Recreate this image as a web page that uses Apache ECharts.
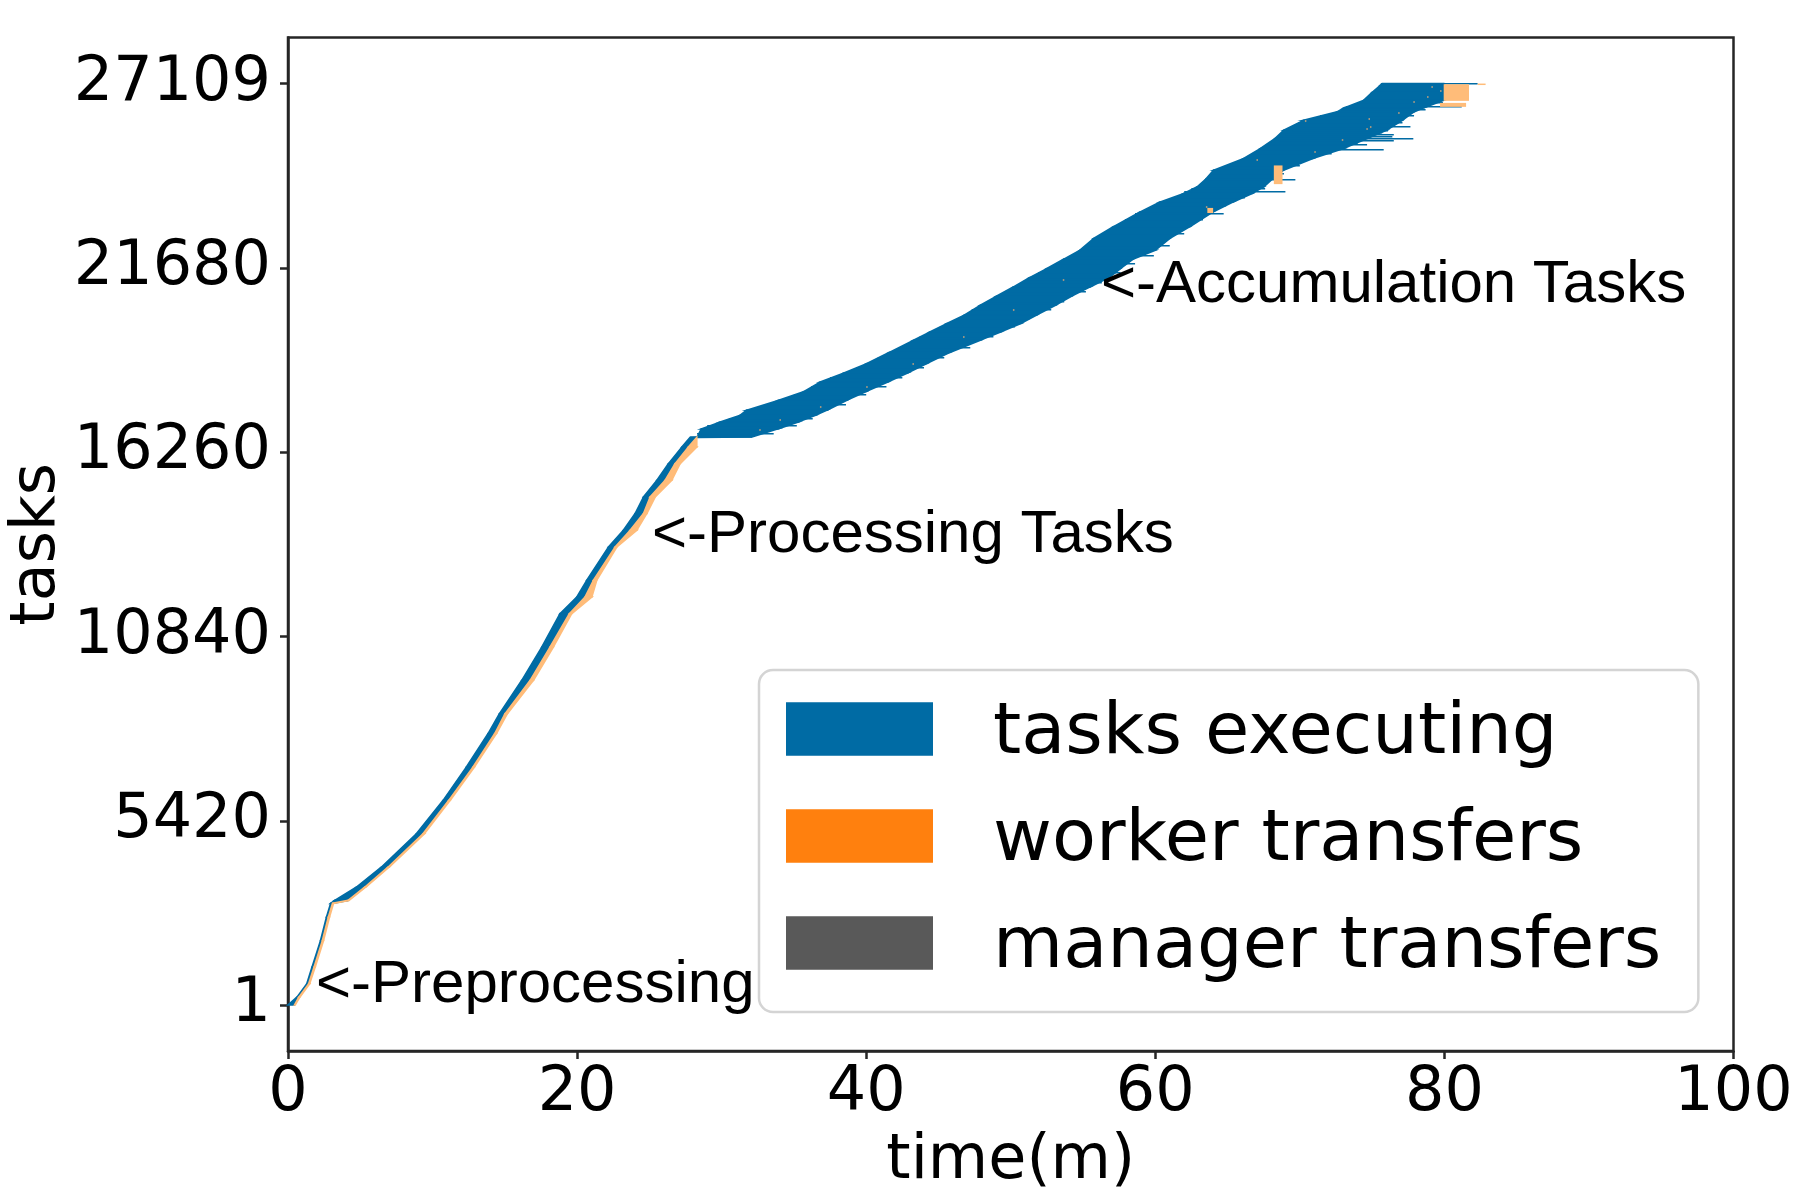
<!DOCTYPE html>
<html><head><meta charset="utf-8">
<script src="https://cdn.jsdelivr.net/npm/echarts@6/dist/echarts.min.js"></script>
<style>html,body{margin:0;padding:0;background:#fff}#c{width:1800px;height:1200px}</style>
</head><body><div id="c"></div>
<script>
// ---- data ----
const xTicks = [0, 20, 40, 60, 80, 100];
const yTicks = [1, 5420, 10840, 16260, 21680, 27109];

// band of tasks: task index, start time, end of execution, end of worker transfer (minutes)
const bandTask = [1, 231, 625, 1113, 1899, 2585, 2990, 3077, 3468, 4056, 5039, 6020, 7000, 7982, 8571, 9551, 10531, 11514, 12002, 12494, 13474, 13965, 14457, 14946, 15437, 15928, 16417, 16700,
  16712, 16950, 17150, 17350, 17500, 17800, 18050, 18330, 18600, 18872, 19200, 19557, 19800, 20048, 20300, 20587, 20850, 21126, 21400, 21667, 21950, 22206, 22550, 22900, 23333, 23627, 23874, 24069, 24300, 24561, 24905, 25200, 25500, 25737, 26031, 26276, 26400, 26619, 26850, 27060, 27109];
const bandStart = [0.0, 0.62, 1.3, 1.66, 2.25, 2.66, 2.95, 3.23, 4.73, 6.46, 8.88, 10.73, 12.34, 13.84, 14.63, 16.17, 17.56, 18.82, 19.98, 20.67, 22.17, 23.2, 24.01, 24.59, 25.52, 26.32, 27.25, 27.82,
  28.3, 28.6, 29.9, 31.28, 31.74, 34.0, 35.7, 36.82, 38.5, 40.05, 41.6, 43.27, 44.4, 45.58, 46.8, 47.89, 49.0, 50.19, 51.3, 52.5, 53.7, 54.78, 55.73, 57.11, 58.96, 60.35, 61.96, 62.89, 63.5, 64.04, 66.11, 67.27, 68.3, 68.88, 70.27, 72.57, 73.1, 74.42, 75.0, 75.57, 75.7];
const bandExecEnd = [0.45, 0.75, 1.43, 1.8, 2.38, 2.79, 3.08, 4.15, 5.31, 6.92, 9.34, 11.12, 12.8, 14.3, 15.02, 16.75, 18.13, 19.47, 20.55, 21.13, 22.63, 23.67, 24.59, 25.05, 26.09, 26.78, 27.7, 28.28,
  32.1, 33.9, 35.3, 36.5, 37.3, 38.7, 40.0, 41.5, 42.9, 44.2, 45.8, 47.89, 49.3, 50.7, 51.8, 53.1, 54.2, 55.5, 56.8, 57.6, 58.5, 60.0, 61.0, 62.4, 64.0, 65.4, 66.7, 67.5, 68.1, 68.88, 70.9, 73.03, 74.7, 76.0, 77.1, 77.9, 78.6, 79.95, 79.95, 79.95, 79.95];
const bandXferEnd = [0.5, 0.82, 1.5, 1.88, 2.46, 2.87, 3.15, 4.22, 5.38, 7.0, 9.44, 11.22, 12.9, 14.42, 15.18, 16.98, 18.36, 19.63, 21.02, 21.36, 22.75, 24.13, 24.82, 25.4, 26.55, 27.13, 28.28, 28.28,
  32.1, 33.9, 35.3, 36.5, 37.3, 38.7, 40.0, 41.5, 42.9, 44.2, 45.8, 47.89, 49.3, 50.7, 51.8, 53.1, 54.2, 55.5, 56.8, 57.6, 58.5, 60.0, 61.0, 62.4, 64.0, 65.4, 66.7, 67.5, 68.1, 68.88, 70.9, 73.03, 74.7, 76.0, 77.1, 77.9, 78.6, 79.95, 79.95, 79.95, 79.95];

// single tasks sticking out of the band: [task, start, end]
const longTasks = [
  [16800, 28.3, 33.6], [17050, 29.0, 35.2], [17250, 30.5, 36.3], [17650, 33.0, 38.6], [17950, 35.0, 40.0],
  [18200, 36.2, 41.4], [18450, 37.5, 42.5], [18750, 39.3, 44.0], [19050, 40.8, 45.4], [19350, 42.3, 47.2],
  [19650, 43.7, 48.8], [19802, 44.5, 48.8], [19950, 45.1, 50.3], [20200, 46.3, 51.3], [20450, 47.3, 52.8],
  [20700, 48.3, 53.7], [20980, 49.6, 55.2], [21250, 50.7, 56.3], [21324, 51.2, 55.96], [21550, 51.9, 57.6],
  [21800, 53.1, 58.6], [22050, 54.2, 59.9], [22350, 55.2, 61.0], [22700, 56.3, 62.0], [23100, 57.9, 63.3],
  [23265, 58.6, 64.73], [23500, 59.8, 64.9], [23750, 61.2, 66.2], [23922, 62.0, 69.0], [24000, 62.5, 67.6],
  [24266, 63.7, 69.69], [24450, 63.8, 68.9], [24700, 64.9, 70.0], [25050, 66.7, 72.2],
  [25169, 67.3, 75.8], [25295, 68.0, 74.65], [25350, 67.8, 74.0], [25422, 68.5, 76.5], [25493, 68.6, 77.85],
  [25540, 68.8, 76.4], [25599, 69.0, 76.5], [25650, 68.7, 75.7], [25717, 69.5, 76.1], [25834, 70.0, 77.65],
  [25950, 69.9, 77.1], [26150, 71.4, 77.9], [26350, 72.9, 78.7], [26423, 73.2, 81.2], [26550, 74.0, 79.9], [27095, 75.6, 82.3]
];
// worker transfer blocks: [taskLow, taskHigh, start, end]
const transferBlocks = [
  [23300, 23450, 63.6, 64.0], [24150, 24700, 68.2, 68.8], [26423, 26540, 79.7, 81.5],
  [26600, 27090, 79.95, 81.7], [27095, 27109, 82.3, 82.85]
];
// manager transfer marks: [task, start, end]
const managerMarks = [
  [16909, 32.6, 32.7], [17203, 34.0, 34.1], [17594, 36.8, 36.9], [18183, 40.0, 40.1], [18872, 43.2, 43.3],
  [19654, 46.7, 46.8], [20440, 50.15, 50.25], [21323, 53.6, 53.7], [23480, 63.5, 63.6], [24855, 67.0, 67.1],
  [25099, 71.0, 71.1], [25443, 72.9, 73.0], [25758, 74.6, 74.7], [25834, 74.85, 74.95], [26012, 70.35, 70.45],
  [26053, 74.75, 74.85], [26230, 76.8, 76.9], [26572, 77.85, 77.95], [26718, 78.8, 78.9], [26897, 79.7, 79.8], [26995, 79.1, 79.2]
];

// ---- chart ----
const BLUE = '#006BA4', ORANGE_LIGHT = '#FFBC79', ORANGE = '#FF800E', GREY = '#595959', SPECK = '#9C9684';

const bandData = [], xferData = [];
for (let i = 0; i < bandTask.length - 1; i++) {
  bandData.push([bandStart[i], bandTask[i], bandExecEnd[i], bandTask[i + 1], bandStart[i + 1], bandExecEnd[i + 1]]);
  if (bandXferEnd[i] > bandExecEnd[i] || bandXferEnd[i + 1] > bandExecEnd[i + 1]) {
    xferData.push([bandExecEnd[i], bandTask[i], bandXferEnd[i], bandTask[i + 1], bandExecEnd[i + 1], bandXferEnd[i + 1]]);
  }
}

function polyRenderer(color) {
  return function (params, api) {
    const a = api.coord([api.value(0), api.value(1)]);
    const b = api.coord([api.value(2), api.value(1)]);
    const c = api.coord([api.value(5), api.value(3)]);
    const d = api.coord([api.value(4), api.value(3)]);
    return { type: 'polygon', shape: { points: [a, b, c, d] }, style: { fill: color, stroke: color, lineWidth: 1.6 } };
  };
}
function barRenderer(color, taskHeight) {
  return function (params, api) {
    const p0 = api.coord([api.value(1), api.value(0)]);
    const p1 = api.coord([api.value(2), api.value(0)]);
    const h = Math.max(1.5, api.size([0, taskHeight])[1]);
    return { type: 'rect', shape: { x: p0[0], y: Math.round(p0[1] - h / 2), width: Math.max(1.5, p1[0] - p0[0]), height: h }, style: { fill: color } };
  };
}
function blockRenderer(color) {
  return function (params, api) {
    const p0 = api.coord([api.value(2), api.value(1)]);
    const p1 = api.coord([api.value(3), api.value(0)]);
    return { type: 'rect', shape: { x: p0[0], y: p0[1], width: p1[0] - p0[0], height: Math.max(1.5, p1[1] - p0[1]) }, style: { fill: color } };
  };
}

// legend patch: filled rectangle with an empty strip below it, so the label sits a little lower
const LEGEND_ICON = 'path://M0,0L147,0L147,53.5L0,53.5Z M0,63.5L147,63.5Z';

const chart = echarts.init(document.getElementById('c'), null, { renderer: 'canvas' });
const FONT = 'DejaVu Sans';
chart.setOption({
  animation: false,
  backgroundColor: '#fff',
  grid: { left: 288, right: 66.5, top: 37.5, bottom: 149, show: true, borderColor: '#262626', borderWidth: 2.5, backgroundColor: 'transparent', containLabel: false, outerBoundsMode: 'none' },
  xAxis: {
    type: 'value', min: 0, max: 100, interval: 20,
    name: 'time(m)', nameLocation: 'middle', nameGap: 80,
    nameTextStyle: { fontFamily: FONT, fontSize: 62, color: '#000' },
    axisLine: { show: true, onZero: false, lineStyle: { color: '#262626', width: 2.5 } },
    axisTick: { show: true, inside: false, length: 8, lineStyle: { color: '#262626', width: 2.5 } },
    axisLabel: { fontFamily: FONT, fontSize: 62, color: '#000', margin: 12, formatter: v => String(v) },
    splitLine: { show: false }
  },
  yAxis: {
    type: 'value', min: -1354, max: 28464,
    name: 'tasks', nameLocation: 'middle', nameGap: 219, nameRotate: 90, nameMoveOverlap: false,
    nameTextStyle: { fontFamily: FONT, fontSize: 62, color: '#000' },
    axisLine: { show: true, onZero: false, lineStyle: { color: '#262626', width: 2.5 } },
    axisTick: { show: true, inside: false, length: 8, lineStyle: { color: '#262626', width: 2.5 }, customValues: yTicks },
    axisLabel: { fontFamily: FONT, fontSize: 62, color: '#000', margin: 17, customValues: yTicks, formatter: v => String(v) },
    splitLine: { show: false }
  },
  legend: {
    left: 759, top: 670, orient: 'vertical',
    padding: [28, 37, 28, 27],
    itemWidth: 147, itemHeight: 63.5, itemGap: 35,
    backgroundColor: 'rgba(255,255,255,0.8)', borderColor: '#d4d4d4', borderWidth: 2.5, borderRadius: 14,
    textStyle: { fontFamily: FONT, fontSize: 72, color: '#000', padding: [0, 0, 0, 55] },
    icon: LEGEND_ICON,
    data: [
      { name: 'tasks executing', itemStyle: { color: BLUE } },
      { name: 'worker transfers', itemStyle: { color: ORANGE } },
      { name: 'manager transfers', itemStyle: { color: GREY } }
    ]
  },
  series: [
    { type: 'custom', name: 'tasks executing', color: BLUE, renderItem: polyRenderer(BLUE), data: bandData, encode: { x: [0, 2, 4, 5], y: [1, 3] }, z: 2 },
    { type: 'custom', name: 'tasks executing', color: BLUE, renderItem: barRenderer(BLUE, 45), data: longTasks, encode: { x: [1, 2], y: 0 }, z: 2 },
    { type: 'custom', name: 'worker transfers', color: ORANGE, renderItem: polyRenderer(ORANGE_LIGHT), data: xferData, encode: { x: [0, 2, 4, 5], y: [1, 3] }, z: 3 },
    { type: 'custom', name: 'worker transfers', color: ORANGE, renderItem: blockRenderer(ORANGE_LIGHT), data: transferBlocks, encode: { x: [2, 3], y: [0, 1] }, z: 3 },
    { type: 'custom', name: 'manager transfers', color: GREY, renderItem: barRenderer(SPECK, 60), data: managerMarks, encode: { x: [1, 2], y: 0 }, z: 4 }
  ],
  graphic: [
    { type: 'text', left: 316, top: 955, style: { text: '<-Preprocessing', font: '60px "Liberation Sans"', fill: '#000' }, z: 10 },
    { type: 'text', left: 652, top: 505, style: { text: '<-Processing Tasks', font: '60px "Liberation Sans"', fill: '#000' }, z: 10 },
    { type: 'text', left: 1101, top: 255, style: { text: '<-Accumulation Tasks', font: '60px "Liberation Sans"', fill: '#000' }, z: 10 }
  ]
});
</script>
</body></html>
